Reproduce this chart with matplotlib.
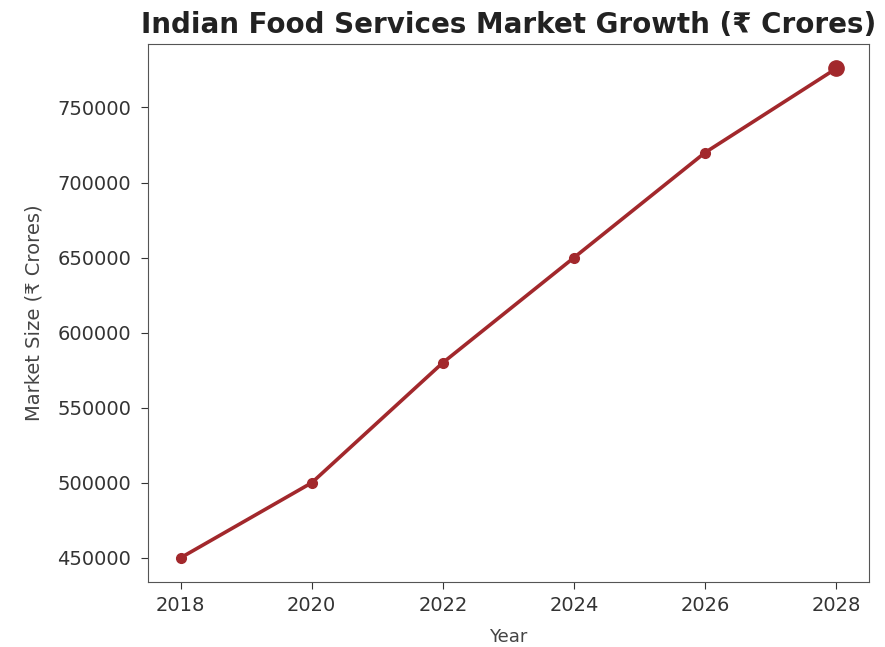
import matplotlib
matplotlib.use("Agg")
import matplotlib.pyplot as plt

years = [2018, 2020, 2022, 2024, 2026, 2028]
market_size = [450000, 500000, 580000, 650000, 720000, 776000]
xticks = [2018, 2020, 2022, 2024, 2026, 2028]

line_color = "#a2282c"

fig, ax = plt.subplots(figsize=(8.85, 6.47), dpi=100)
fig.subplots_adjust(left=0.167, right=0.982, top=0.932, bottom=0.1)

ax.plot(years, market_size, color=line_color, linewidth=2.6,
        marker="o", markersize=7)
ax.plot(years[-1:], market_size[-1:], color=line_color, marker="o",
        markersize=11, linestyle="none")

ax.set_xticks(xticks)
ax.set_title("Indian Food Services Market Growth (₹ Crores)",
             fontsize=20, fontweight="bold", color="#222222", pad=8)
ax.set_xlabel("Year", fontsize=13, color="#444444", labelpad=9)
ax.set_ylabel("Market Size (₹ Crores)", fontsize=14, color="#444444",
              labelpad=10)
ax.tick_params(colors="#333333", labelsize=14)
ax.tick_params(axis="x", length=5, pad=5)
ax.tick_params(axis="y", length=5, pad=7)
for s in ax.spines.values():
    s.set_color("#555555")

fig.savefig("out.png", dpi=100)
